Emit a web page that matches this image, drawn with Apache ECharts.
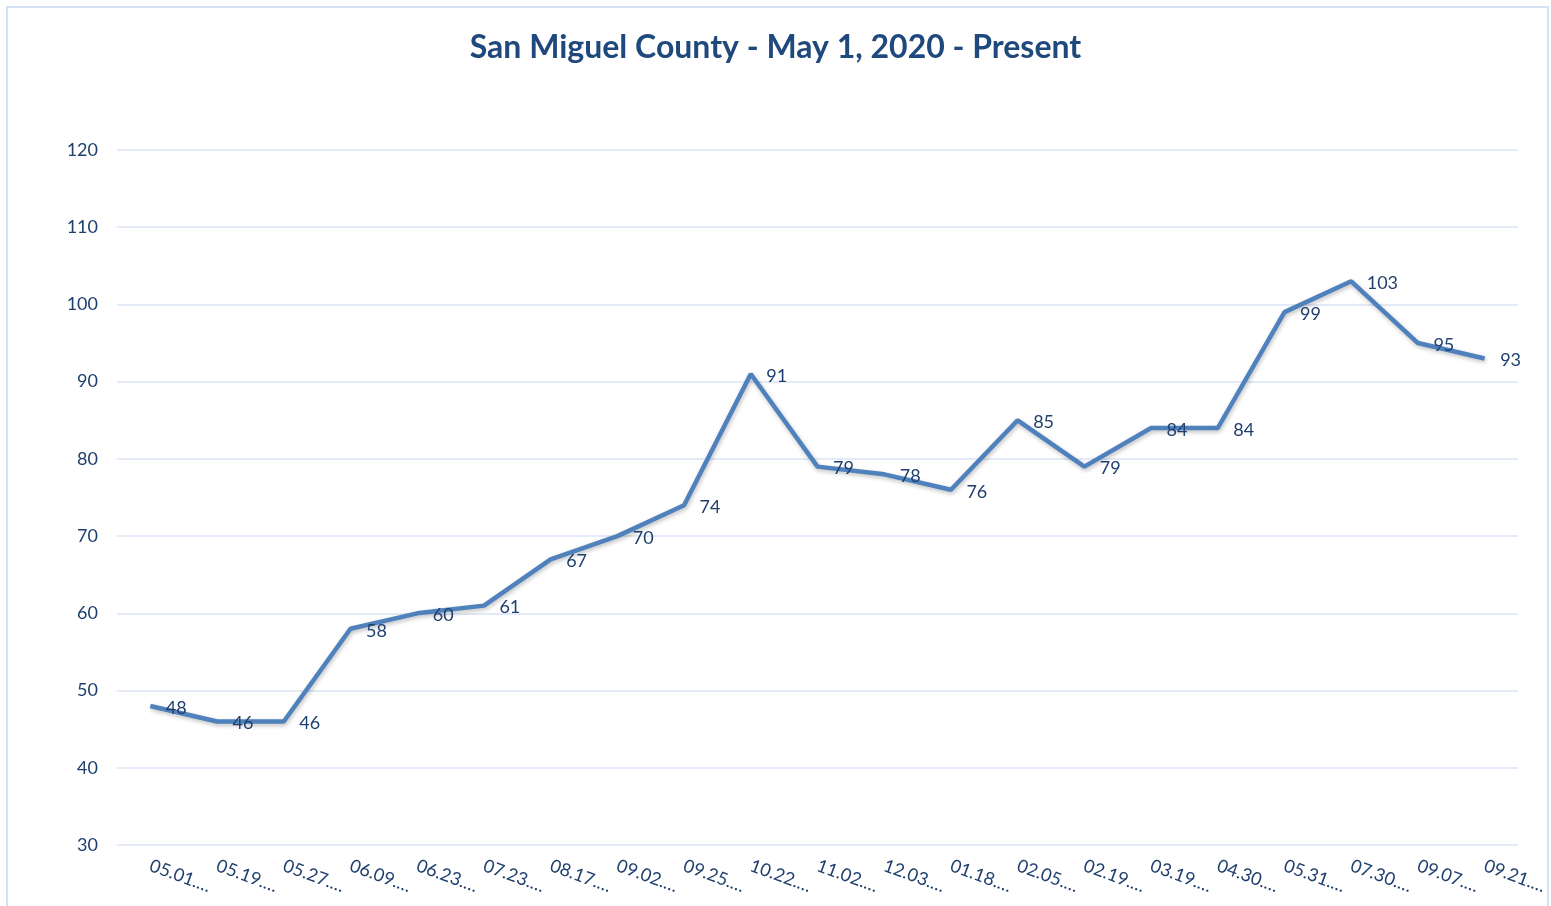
<!DOCTYPE html>
<html>
<head>
<meta charset="utf-8">
<script src="https://cdn.jsdelivr.net/npm/echarts@6/dist/echarts.min.js"></script>
<style>
    html, body { margin: 0; padding: 0; background: #fff; }
    #chart { width: 1551px; height: 906px; }
</style>
</head>
<body>
<div id="chart"></div>
<script>
// dates (Excel cuts them off with an ellipsis)
var dates = ['05.01', '05.19', '05.27', '06.09', '06.23', '07.23', '08.17', '09.02', '09.25', '10.22',
    '11.02', '12.03', '01.18', '02.05', '02.19', '03.19', '04.30', '05.31', '07.30', '09.07', '09.21'];
var cases = [48, 46, 46, 58, 60, 61, 67, 70, 74, 91, 79, 78, 76, 85, 79, 84, 84, 99, 103, 95, 93];
var yTicks = [30, 40, 50, 60, 70, 80, 90, 100, 110, 120];

var textColor = '#1F3F6E';
var font = 'Lato, "Open Sans", sans-serif';

var chart = echarts.init(document.getElementById('chart'));
chart.setOption({
    animation: false,
    title: {
        text: 'San Miguel County - May 1, 2020 - Present',
        left: 'center',
        top: 27,
        textStyle: {
            color: '#1F497D',
            fontSize: 32,
            fontWeight: 'bold',
            fontFamily: font
        }
    },
    graphic: [{
        type: 'rect',
        shape: { x: 7, y: 7, width: 1541, height: 960 },
        style: { fill: 'none', stroke: '#D5E2F4', lineWidth: 2 },
        silent: true
    }],
    grid: {
        left: 117,
        right: 33,
        top: 150,
        bottom: 61,
        containLabel: false
    },
    xAxis: {
        type: 'category',
        data: dates.map(function (d) { return d + '.…'; }),
        boundaryGap: true,
        axisLine: { show: false },
        axisTick: { show: false },
        axisLabel: {
            rotate: -20,
            interval: 0,
            margin: 20,
            color: textColor,
            fontSize: 18,
            fontFamily: font
        }
    },
    yAxis: {
        type: 'value',
        min: yTicks[0],
        max: yTicks[yTicks.length - 1],
        interval: 10,
        axisLine: { show: false },
        axisTick: { show: false },
        axisLabel: {
            margin: 19,
            color: textColor,
            fontSize: 18,
            fontFamily: font
        },
        splitLine: {
            lineStyle: { color: '#D9E5F5', width: 1.5 }
        }
    },
    series: [{
        type: 'line',
        data: cases,
        symbol: 'circle',
        symbolSize: 1,
        showSymbol: true,
        itemStyle: { color: 'rgba(0,0,0,0)' },
        lineStyle: {
            color: '#4F81BD',
            width: 4.5,
            shadowColor: 'rgba(0,0,0,0.25)',
            shadowBlur: 4,
            shadowOffsetX: 1,
            shadowOffsetY: 2
        },
        label: {
            show: true,
            position: 'right',
            distance: 15,
            offset: [0, 2],
            color: textColor,
            fontSize: 18,
            fontFamily: font
        }
    }]
});
</script>
</body>
</html>
